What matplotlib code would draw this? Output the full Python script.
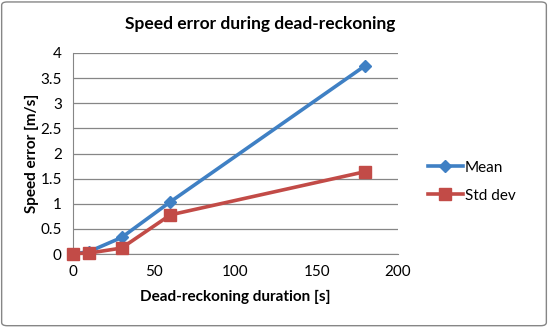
import matplotlib.pyplot as plt
from matplotlib.patches import FancyBboxPatch

duration = [0, 10, 30, 60, 180]
mean_err = [0.0, 0.05, 0.33, 1.04, 3.75]
std_err = [0.01, 0.02, 0.12, 0.78, 1.64]

plt.rcParams['font.family'] = ['Lato', 'DejaVu Sans']

fig = plt.figure(figsize=(5.48, 3.27), dpi=100)
ax = fig.add_axes([0.133, 0.223, 0.593, 0.615])

ax.plot(duration, mean_err, color='#3F80C4', lw=2.6, marker='D', ms=6,
        label='Mean', zorder=3)
ax.plot(duration, std_err, color='#C24B47', lw=2.6, marker='s', ms=8,
        label='Std dev', zorder=3)

ax.set_xlim(0, 200)
ax.set_ylim(0, 4)
ax.set_xticks([0, 50, 100, 150, 200])
ax.set_yticks([0, 0.5, 1, 1.5, 2, 2.5, 3, 3.5, 4])
ax.set_yticklabels(['0', '0.5', '1', '1.5', '2', '2.5', '3', '3.5', '4'])
ax.grid(axis='y', color='#868686', lw=0.9)
ax.set_axisbelow(True)
for s in ['top', 'right']:
    ax.spines[s].set_visible(False)
for s in ['left', 'bottom']:
    ax.spines[s].set_color('#868686')
ax.tick_params(length=0, labelsize=11, pad=8)
for line in ax.lines:
    line.set_clip_on(False)

# title is centred over the whole chart area, not the plot area
fig.text(0.475, 0.927, 'Speed error during dead-reckoning', fontsize=12.5,
         fontweight='bold', ha='center', va='center')
ax.set_xlabel('Dead-reckoning duration [s]', fontsize=11, fontweight='bold', labelpad=8)
ax.set_ylabel('Speed error [m/s]', fontsize=11, fontweight='bold', labelpad=1)

ax.legend(loc='center left', bbox_to_anchor=(1.05, 0.36), frameon=False,
          fontsize=11, handlelength=2.3, handletextpad=0.1, labelspacing=0.9)

fig.patches.append(FancyBboxPatch((0.003, 0.004), 0.994, 0.99, boxstyle='round,pad=0,rounding_size=0.01',
                                  transform=fig.transFigure, fill=False, ec='#868686', lw=1))

fig.savefig('out.png', dpi=100)
